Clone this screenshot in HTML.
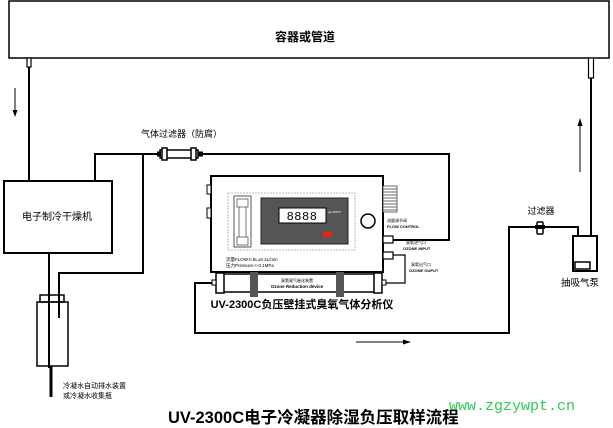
<!DOCTYPE html>
<html><head><meta charset="utf-8"><style>
html,body{margin:0;padding:0;background:#fff;}
svg{display:block;font-family:"Liberation Sans","Noto Sans CJK SC",sans-serif;}
</style></head><body>
<svg width="613" height="428" viewBox="0 0 613 428" xmlns="http://www.w3.org/2000/svg">
<!-- top container -->
<rect x="9" y="1" width="600" height="57" fill="#fff" stroke="#000" stroke-width="1.5"/>
<text x="305" y="41" font-size="12" text-anchor="middle" font-weight="bold">容器或管道</text>
<!-- left pipe -->
<rect x="27" y="58" width="4" height="9" fill="#fff" stroke="#000" stroke-width="1.2"/>
<line x1="29" y1="67" x2="29" y2="181" stroke="#000" stroke-width="2"/>
<line x1="15" y1="88" x2="15" y2="112" stroke="#000" stroke-width="1"/>
<polygon points="12.5,110 17.5,110 15,117" fill="#000"/>
<!-- right pipe -->
<rect x="588.5" y="58" width="5" height="20" fill="#fff" stroke="#000" stroke-width="1.2"/>
<line x1="591" y1="78" x2="591" y2="236" stroke="#000" stroke-width="2"/>
<line x1="580" y1="172" x2="580" y2="124" stroke="#000" stroke-width="1"/>
<polygon points="577.5,126 582.5,126 580,118" fill="#000"/>
<!-- dryer -->
<rect x="4" y="181" width="108" height="72" fill="#fff" stroke="#000" stroke-width="2"/>
<text x="57" y="220" font-size="10" text-anchor="middle">电子制冷干燥机</text>
<!-- lines -->
<polyline points="95,181 95,154 449,154 449,240 393,240" fill="none" stroke="#000" stroke-width="2"/>
<polyline points="143,154 143,273 59,273 59,318" fill="none" stroke="#000" stroke-width="2"/>
<line x1="49" y1="253" x2="49" y2="368" stroke="#000" stroke-width="2"/>
<!-- filter -->
<text x="141" y="137" font-size="9">气体过滤器（防腐）</text>
<rect x="160" y="150" width="38" height="8" fill="#fff" stroke="#000" stroke-width="1.5"/>
<rect x="157" y="151.5" width="4" height="5" fill="#000"/>
<rect x="162" y="148" width="5" height="12" fill="#fff" stroke="#000" stroke-width="1.5"/>
<rect x="191" y="148" width="5" height="12" fill="#fff" stroke="#000" stroke-width="1.5"/>
<rect x="198" y="151.5" width="5" height="5" fill="#000"/>
<!-- bottle -->
<rect x="40" y="295" width="24" height="7" fill="#fff" stroke="#000" stroke-width="1.5"/>
<rect x="37" y="302" width="31" height="64" fill="none" stroke="#000" stroke-width="1.5"/>
<line x1="49" y1="290" x2="49" y2="368" stroke="#000" stroke-width="2"/>
<line x1="59" y1="295" x2="59" y2="318" stroke="#000" stroke-width="2"/>
<line x1="51" y1="366" x2="51" y2="397" stroke="#000" stroke-width="3"/>
<text x="63" y="388" font-size="7">冷凝水自动排水装置</text>
<text x="63" y="398" font-size="7">或冷凝水收集瓶</text>
<!-- analyzer -->
<rect x="211" y="176" width="172" height="96" fill="#fff" stroke="#000" stroke-width="2"/>
<rect x="207" y="185" width="4" height="9" fill="#fff" stroke="#000" stroke-width="1"/>
<rect x="207" y="208" width="4" height="10" fill="#fff" stroke="#000" stroke-width="1"/>
<rect x="228" y="193" width="127" height="57" fill="none" stroke="#bbb" stroke-width="1" stroke-dasharray="2,1"/>
<rect x="234" y="196" width="17" height="51" fill="#fff" stroke="#555" stroke-width="1"/>
<rect x="237" y="199" width="11" height="8" fill="#fff" stroke="#555" stroke-width="0.8"/>
<rect x="237" y="237" width="11" height="8" fill="#fff" stroke="#555" stroke-width="0.8"/>
<line x1="239" y1="207" x2="239" y2="237" stroke="#555" stroke-width="0.8"/>
<line x1="246" y1="207" x2="246" y2="237" stroke="#555" stroke-width="0.8"/>
<rect x="261" y="198" width="87" height="46" fill="#555" stroke="#222" stroke-width="1"/>
<rect x="279" y="208" width="47" height="15" fill="#fff" stroke="#000" stroke-width="1"/>
<text x="302" y="220" font-size="12" text-anchor="middle" font-family="Liberation Mono,monospace" letter-spacing="0.5">8888</text>
<text x="328" y="213" font-size="3" fill="#fff">g/m3NTP</text>
<rect x="323" y="232" width="9" height="5" fill="#e21"/>
<circle cx="368" cy="221" r="7" fill="#fff" stroke="#000" stroke-width="1.5"/>
<rect x="383" y="186" width="14" height="26" fill="#fff" stroke="#444" stroke-width="0.8"/>
<g stroke="#444" stroke-width="0.8"><line x1="383" y1="189" x2="397" y2="189"/><line x1="383" y1="192" x2="397" y2="192"/><line x1="383" y1="195" x2="397" y2="195"/><line x1="383" y1="198" x2="397" y2="198"/><line x1="383" y1="201" x2="397" y2="201"/><line x1="383" y1="204" x2="397" y2="204"/><line x1="383" y1="207" x2="397" y2="207"/><line x1="383" y1="210" x2="397" y2="210"/></g>
<text x="387" y="222" font-size="4">流量调节阀</text>
<text x="387" y="228" font-size="4" font-weight="bold">FLOW CONTROL</text>
<rect x="383" y="236" width="10" height="7" fill="#fff" stroke="#000" stroke-width="1.2"/>
<text x="406" y="244" font-size="4">臭氧进气口</text>
<text x="403" y="250" font-size="4" font-weight="bold">OZONE INPUT</text>
<rect x="383" y="252" width="10" height="7" fill="#fff" stroke="#000" stroke-width="1.2"/>
<polyline points="393,255 405,255 405,283 382,283" fill="none" stroke="#000" stroke-width="1.2"/>
<text x="411" y="266" font-size="4">臭氧出气口</text>
<text x="409" y="272" font-size="4" font-weight="bold">OZONE OUPUT</text>
<text x="226" y="261" font-size="4.5">流量FLOW:0.8L±0.2L/min</text>
<text x="226" y="267" font-size="4.5">压力Pressure:&lt;-0.1MPa</text>
<!-- tube -->
<rect x="220" y="274" width="158" height="18" fill="#fff" stroke="#000" stroke-width="1.5"/>
<rect x="216" y="273" width="8" height="20" fill="#fff" stroke="#000" stroke-width="1.5"/>
<rect x="374" y="273" width="8" height="20" fill="#fff" stroke="#000" stroke-width="1.5"/>
<rect x="212" y="280" width="4" height="5" fill="#fff" stroke="#000" stroke-width="1"/>
<rect x="382" y="280" width="4" height="5" fill="#fff" stroke="#000" stroke-width="1"/>
<rect x="250" y="272" width="8" height="25" fill="#555"/>
<rect x="336" y="272" width="8" height="25" fill="#555"/>
<text x="297" y="282" font-size="4" text-anchor="middle">臭氧尾气催化装置</text>
<text x="297" y="288" font-size="4.5" text-anchor="middle" font-weight="bold">Ozone Reduction device</text>
<text x="302" y="308" font-size="11" text-anchor="middle" font-weight="bold">UV-2300C负压壁挂式臭氧气体分析仪</text>
<!-- return loop -->
<polyline points="212,283 195,283 195,333 509,333 509,227 578,227 578,236" fill="none" stroke="#000" stroke-width="2"/>
<line x1="356" y1="342" x2="405" y2="342" stroke="#000" stroke-width="1"/>
<polygon points="403,339.5 403,344.5 411,342" fill="#000"/>
<!-- small filter -->
<text x="541" y="214" font-size="9" text-anchor="middle">过滤器</text>
<rect x="537" y="222" width="6" height="12" rx="1" fill="#fff" stroke="#000" stroke-width="1.5"/>
<rect x="535" y="225" width="10" height="4" fill="#000"/>
<!-- pump -->
<rect x="573" y="236" width="24" height="35" fill="#fff" stroke="#000" stroke-width="2"/>
<rect x="575" y="262" width="15" height="7" fill="#fff" stroke="#000" stroke-width="1.5"/>
<text x="580" y="286" font-size="9.5" text-anchor="middle">抽吸气泵</text>
<!-- titles -->
<text x="168" y="423" font-size="16.5" font-weight="bold">UV-2300C电子冷凝器除湿负压取样流程</text>
<text x="449" y="410" font-size="15" fill="#2ecc55" font-family="Liberation Mono,monospace">www.zgzywpt.cn</text>
</svg>
</body></html>
